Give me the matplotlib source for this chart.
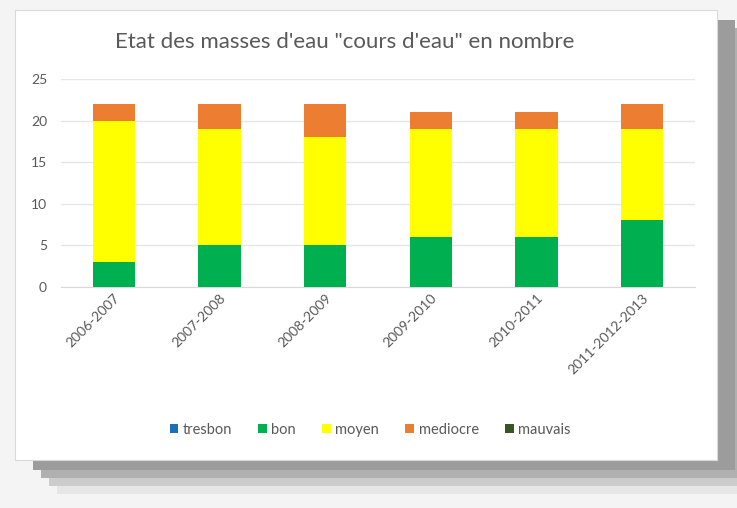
import numpy as np
import matplotlib
matplotlib.use('Agg')
import matplotlib.pyplot as plt
from matplotlib.patches import Rectangle, Patch

plt.rcParams['font.family'] = ['Lato', 'DejaVu Sans']

# Data
periods = ['2006-2007', '2007-2008', '2008-2009', '2009-2010', '2010-2011', '2011-2012-2013']
series_names = ['tresbon', 'bon', 'moyen', 'mediocre', 'mauvais']
tresbon = [0, 0, 0, 0, 0, 0]
bon = [3, 5, 5, 6, 6, 8]
moyen = [17, 14, 13, 13, 13, 11]
mediocre = [2, 3, 4, 2, 2, 3]
mauvais = [0, 0, 0, 0, 0, 0]

colors = {'tresbon': '#1f6fb8', 'bon': '#00b050', 'moyen': '#ffff00',
          'mediocre': '#ed7d31', 'mauvais': '#375623'}
text_col = '#595959'

W, H = 737, 508
fig = plt.figure(figsize=(W / 100, H / 100), dpi=100)
fig.patch.set_facecolor('#f4f4f4')

# shadow + white card
def px(x, y, w, h):
    return (x / W, 1 - (y + h) / H, w / W, h / H)

for off, col in [(34, '#e6e6e6'), (26, '#cccccc'), (18, '#b0b0b0'), (10, '#9c9c9c')]:
    x, y, w, h = px(15 + off + 8, 10 + off, 702, 450)
    fig.patches.append(Rectangle((x, y), w, h, transform=fig.transFigure,
                                 facecolor=col, edgecolor='none', zorder=0))
x, y, w, h = px(15, 10, 702, 450)
fig.patches.append(Rectangle((x, y), w, h, transform=fig.transFigure,
                             facecolor='white', edgecolor='#d9d9d9', lw=0.8, zorder=1))

ax = fig.add_axes(px(61, 79, 634, 208))
ax.set_zorder(2)
ax.patch.set_alpha(0)

xpos = np.arange(len(periods))
bottom = np.zeros(len(periods))
for name, vals in zip(series_names, [tresbon, bon, moyen, mediocre, mauvais]):
    ax.bar(xpos, vals, width=0.4, bottom=bottom, color=colors[name], zorder=3)
    bottom += np.array(vals)

ax.set_xlim(-0.5, len(periods) - 0.5)
ax.set_ylim(0, 25)
ax.set_yticks(range(0, 26, 5))
ax.yaxis.grid(True, color='#e6e6e6', lw=1)
ax.set_axisbelow(True)
for s in ax.spines.values():
    s.set_visible(False)
ax.spines['bottom'].set_visible(True)
ax.spines['bottom'].set_color('#d9d9d9')
ax.tick_params(axis='both', length=0, colors=text_col, labelsize=10)
ax.tick_params(axis='y', pad=10)
ax.set_xticks(xpos)
ax.set_xticklabels(periods, rotation=45, ha='right', rotation_mode='anchor')

fig.text(345 / W, 1 - 42 / H, 'Etat des masses d\'eau "cours d\'eau" en nombre',
         ha='center', va='center', fontsize=16, color=text_col)

handles = [Patch(facecolor=colors[n], edgecolor='none') for n in series_names]
fig.legend(handles, series_names, loc='center', bbox_to_anchor=(370 / W, 1 - 430 / H),
           ncol=5, frameon=False, fontsize=10.5, labelcolor=text_col,
           handlelength=0.6, handleheight=0.6, handletextpad=0.3, columnspacing=1.8)

fig.savefig('out.png', dpi=100, facecolor=fig.get_facecolor())
